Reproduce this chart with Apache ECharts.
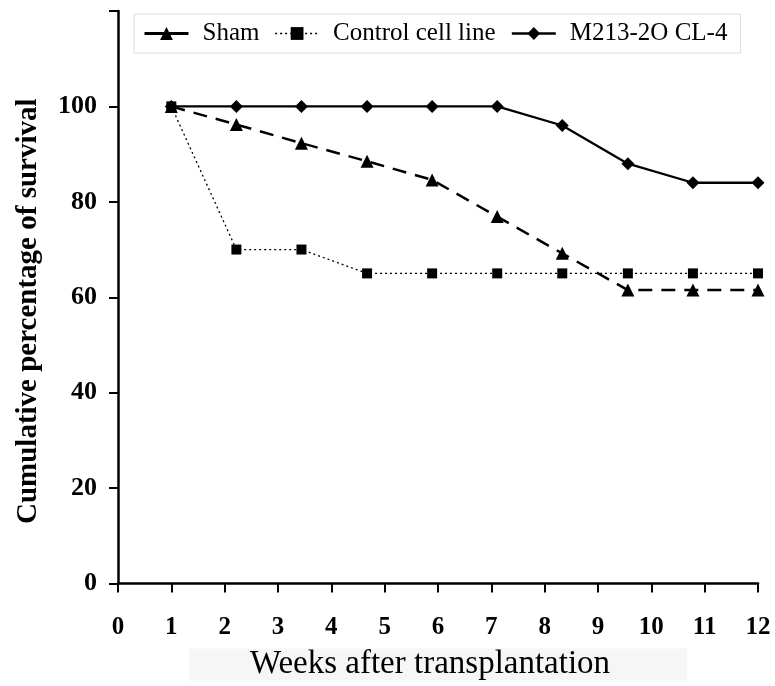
<!DOCTYPE html>
<html>
<head>
<meta charset="utf-8">
<script src="https://cdn.jsdelivr.net/npm/echarts@6/dist/echarts.min.js"></script>
<style>
  html, body { margin: 0; padding: 0; background: #fff; }
  #chart { width: 775px; height: 686px; }
</style>
</head>
<body>
<div id="chart"></div>
<script>
// sampling weeks (evenly spaced between 1 and 12)
const weeks = [1, 2.22, 3.44, 4.67, 5.89, 7.11, 8.33, 9.56, 10.78, 12];
const sham = [100, 96.2, 92.3, 88.5, 84.6, 76.9, 69.2, 61.5, 61.5, 61.5];
const control = [100, 70, 70, 65, 65, 65, 65, 65, 65, 65];
const clone = [100, 100, 100, 100, 100, 100, 96, 88, 84, 84];
const xTicks = [0, 1, 2, 3, 4, 5, 6, 7, 8, 9, 10, 11, 12];
const yTicks = [0, 20, 40, 60, 80, 100];

const serif = '"Liberation Serif", "Times New Roman", serif';
const pairs = (ys) => weeks.map((w, i) => [w, ys[i]]);

const chart = echarts.init(document.getElementById('chart'));
chart.setOption({
  animation: false,
  backgroundColor: '#fff',
  grid: { left: 118, right: 17, top: 11, bottom: 101, containLabel: false },
  legend: {
    left: 134,
    top: 14,
    padding: [7, 13, 7, 9],
    borderColor: '#dcdcdc',
    borderWidth: 1,
    itemWidth: 44,
    itemHeight: 16,
    itemGap: 15,
    textStyle: { fontFamily: serif, fontSize: 25, color: '#000', padding: [0, 0, 0, 9] },
    data: [
      { name: 'Sham', lineStyle: { type: 'solid', width: 3 } },
      { name: 'Control cell line', lineStyle: { width: 1.3 } },
      { name: 'M213-2O CL-4', lineStyle: { width: 2.5 } },
    ],
  },
  xAxis: {
    type: 'value',
    min: 0,
    max: 12,
    interval: 1,
    name: 'Weeks after transplantation',
    nameLocation: 'middle',
    nameGap: 65,
    nameTextStyle: {
      fontFamily: serif, fontSize: 33, color: '#000',
      backgroundColor: '#f6f6f6', padding: [0, 77, 0, 61], lineHeight: 32,
    },
    axisLine: { lineStyle: { color: '#000', width: 2.5 } },
    axisTick: { length: 9, lineStyle: { color: '#000', width: 2 } },
    axisLabel: {
      formatter: (v) => (xTicks.includes(v) ? String(v) : ''),
      margin: 32,
      fontFamily: serif, fontSize: 25, fontWeight: 'bold', color: '#000',
    },
    splitLine: { show: false },
  },
  yAxis: {
    type: 'value',
    min: 0,
    max: 120,
    interval: 20,
    name: 'Cumulative percentage of survival',
    nameLocation: 'middle',
    nameGap: 75,
    nameRotate: 90,
    nameTextStyle: {
      fontFamily: serif, fontSize: 29, fontWeight: 'bold', color: '#000',
      padding: [0, 28, 0, 0],
    },
    axisLine: { lineStyle: { color: '#000', width: 2.5 } },
    axisTick: { length: 9, lineStyle: { color: '#000', width: 2 } },
    axisLabel: {
      formatter: (v) => (yTicks.includes(v) ? String(v) : ''),
      margin: 21,
      fontFamily: serif, fontSize: 26, fontWeight: 'bold', color: '#000',
    },
    splitLine: { show: false },
  },
  series: [
    {
      name: 'Sham',
      type: 'line',
      data: pairs(sham),
      symbol: 'triangle',
      symbolSize: 13,
      itemStyle: { color: '#000' },
      lineStyle: { color: '#000', width: 2.5, type: [14, 9] },
      z: 3,
    },
    {
      name: 'Control cell line',
      type: 'line',
      data: pairs(control),
      symbol: 'rect',
      symbolSize: 10,
      itemStyle: { color: '#000' },
      lineStyle: { color: '#000', width: 1.3, type: [2, 3] },
      z: 2,
    },
    {
      name: 'M213-2O CL-4',
      type: 'line',
      data: pairs(clone),
      symbol: 'diamond',
      symbolSize: 13,
      itemStyle: { color: '#000' },
      lineStyle: { color: '#000', width: 2.3 },
      z: 4,
    },
  ],
});
</script>
</body>
</html>
